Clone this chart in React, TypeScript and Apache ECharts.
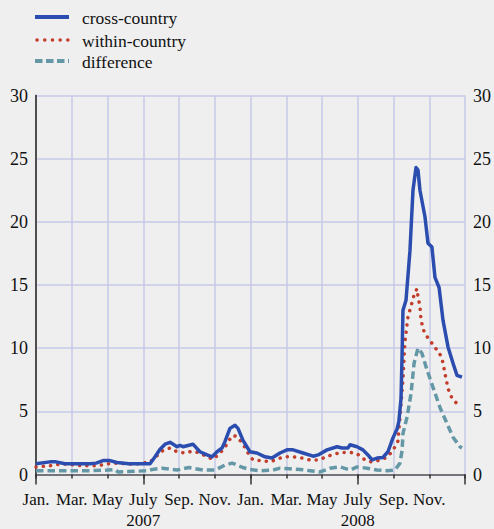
import React, { useEffect, useRef } from "react";
import * as echarts from "echarts";

const monthLabels = ["Jan.", "Mar.", "May", "July", "Sep.", "Nov."];
const yearLabels: Record<number, string> = { 6: "2007", 18: "2008" };
const seriesNames = ["cross-country", "within-country", "difference"];

// [months since Jan. 2007, value]
const crossCountry: [number, number][] = [
  [0, 0.85], [0.78, 1.0], [1.12, 1.0], [1.62, 0.85], [3.02, 0.85], [3.36, 0.9], [3.75, 1.1], [4.14, 1.1],
  [4.53, 0.95], [5.2, 0.85], [6.38, 0.85], [6.66, 1.4], [6.94, 2.0], [7.22, 2.4], [7.5, 2.55], [7.89, 2.2],
  [8.06, 2.3], [8.22, 2.2], [8.5, 2.3], [8.78, 2.4], [9.17, 1.8], [9.57, 1.55], [9.85, 1.4], [10.13, 1.8],
  [10.41, 2.1], [10.57, 2.6], [10.85, 3.65], [11.13, 3.9], [11.3, 3.65], [11.58, 2.7], [11.97, 1.8],
  [12.36, 1.7], [12.81, 1.4], [13.2, 1.3], [13.65, 1.7], [14.04, 1.95], [14.38, 1.95], [14.94, 1.7],
  [15.5, 1.45], [15.78, 1.55], [16.28, 1.95], [16.84, 2.2], [17.12, 2.1], [17.45, 2.1], [17.57, 2.35],
  [17.96, 2.2], [18.29, 1.95], [18.57, 1.55], [18.8, 1.15], [19.08, 1.3], [19.41, 1.35], [19.69, 1.8],
  [19.97, 2.9], [20.2, 3.6], [20.3, 4.2], [20.42, 6.0], [20.48, 9.5], [20.53, 13.0], [20.7, 13.8],
  [20.92, 17.7], [21.09, 22.5], [21.26, 24.3], [21.37, 24.1], [21.48, 22.5], [21.76, 20.4], [21.93, 18.3],
  [22.15, 18.0], [22.32, 15.6], [22.55, 14.8], [22.77, 12.2], [23.05, 10.1], [23.33, 8.8], [23.55, 7.85],
  [23.83, 7.7],
];

const withinCountry: [number, number][] = [
  [0, 0.6], [0.8, 0.7], [1.5, 0.85], [2.5, 0.7], [3.5, 0.7], [4.0, 0.85], [4.5, 0.9], [5.5, 0.8],
  [6.38, 1.0], [6.66, 1.35], [7.05, 1.85], [7.5, 2.1], [7.89, 1.8], [8.34, 1.7], [8.73, 1.85], [9.17, 1.7],
  [9.57, 1.4], [9.9, 1.2], [10.3, 1.7], [10.57, 2.15], [10.8, 2.7], [11.02, 3.1], [11.24, 3.0], [11.41, 2.7],
  [11.69, 2.15], [11.86, 1.7], [12.14, 1.15], [12.64, 1.1], [13.09, 1.0], [13.54, 1.25], [13.93, 1.4],
  [14.38, 1.4], [14.88, 1.3], [15.33, 1.15], [15.78, 1.15], [16.17, 1.35], [16.62, 1.6], [17.12, 1.75],
  [17.57, 1.75], [17.96, 1.65], [18.29, 1.25], [18.69, 1.0], [19.13, 1.1], [19.64, 1.35], [19.97, 1.9],
  [20.25, 2.65], [20.36, 4.5], [20.53, 7.5], [20.64, 10.5], [20.81, 12.5], [20.98, 13.3], [21.15, 14.2],
  [21.31, 14.7], [21.37, 14.1], [21.48, 13.3], [21.54, 12.2], [21.71, 11.3], [21.93, 10.8], [22.1, 10.5],
  [22.27, 10.1], [22.49, 9.8], [22.71, 9.2], [22.88, 8.0], [23.05, 6.8], [23.27, 6.05], [23.55, 5.6],
];

const difference: [number, number][] = [
  [0, 0.3], [1, 0.3], [2, 0.3], [3, 0.3], [4, 0.35], [4.4, 0.4], [4.6, 0.2], [5.5, 0.25], [6.2, 0.3],
  [6.5, 0.4], [7.05, 0.5], [7.89, 0.35], [8.56, 0.55], [9.34, 0.35], [10.02, 0.35], [10.57, 0.75],
  [10.97, 0.9], [11.24, 0.75], [11.58, 0.55], [11.97, 0.4], [12.53, 0.3], [13.26, 0.35], [13.65, 0.5],
  [14.21, 0.45], [14.77, 0.4], [15.33, 0.3], [15.89, 0.2], [16.45, 0.5], [17.01, 0.6], [17.57, 0.35],
  [17.96, 0.6], [18.52, 0.5], [19.08, 0.35], [19.64, 0.3], [20.08, 0.35], [20.36, 0.9], [20.48, 1.9],
  [20.53, 3.25], [20.76, 4.55], [20.98, 6.4], [21.15, 8.8], [21.37, 10.0], [21.59, 9.6], [21.87, 8.3],
  [22.21, 6.9], [22.6, 5.3], [22.99, 4.05], [23.33, 2.95], [23.72, 2.2], [23.83, 2.1],
];

const FONT = "Liberation Serif";
const BLUE = "#2b4db0";
const RED = "#c23d2b";
const TEAL = "#6598a6";
const GRID = "#c6cae9";

export default function App() {
  const ref = useRef<HTMLDivElement>(null);
  useEffect(() => {
    if (!ref.current) return;
    const chart = echarts.init(ref.current, undefined, { renderer: "svg" });
    const legendItems = [
      { name: seriesNames[0], color: BLUE, dash: null as number[] | null, y: 17 },
      { name: seriesNames[1], color: RED, dash: [0.1, 7.6], y: 40 },
      { name: seriesNames[2], color: TEAL, dash: [7.5, 3.5], y: 61 },
    ];
    const graphic: any[] = [];
    legendItems.forEach((it) => {
      const dotted = !!it.dash && it.dash[0] < 1;
      graphic.push({
        type: "line",
        shape: { x1: dotted ? 37 : 35, y1: it.y, x2: 69, y2: it.y },
        style: {
          stroke: it.color,
          lineWidth: dotted ? 3.5 : 4,
          lineDash: it.dash || undefined,
          lineCap: dotted ? "round" : "butt",
        },
      });
      graphic.push({
        type: "text",
        x: 82,
        y: it.y + 1,
        style: {
          text: it.name,
          fontFamily: FONT,
          fontSize: 17.5,
          fill: "#111",
          verticalAlign: "middle",
        },
      });
    });
    chart.setOption({
      animation: false,
      backgroundColor: "#efefef",
      grid: { left: 36, right: 29, top: 95.5, bottom: 54.5, containLabel: false },
      graphic,
      xAxis: [
        {
          type: "value",
          min: 0,
          max: 24,
          interval: 2,
          position: "bottom",
          axisLine: { show: true, onZero: false, lineStyle: { color: "#555", width: 1.5 } },
          axisTick: { show: true, length: 4, lineStyle: { color: "#333", width: 1.5 } },
          axisLabel: {
            fontFamily: FONT,
            fontSize: 17,
            color: "#111",
            margin: 16,
            formatter: (v: number) => (v >= 24 ? "" : monthLabels[Math.round(v / 2) % 6]),
          },
          splitLine: { show: true, lineStyle: { color: GRID, width: 1.5 } },
        },
        {
          type: "value",
          min: 0,
          max: 24,
          interval: 6,
          position: "bottom",
          axisLine: { show: false },
          axisTick: { show: true, length: 10, lineStyle: { color: "#333", width: 1.5 } },
          axisLabel: {
            fontFamily: FONT,
            fontSize: 17,
            color: "#111",
            margin: 37,
            formatter: (v: number) => yearLabels[Math.round(v)] || "",
          },
          splitLine: { show: false },
        },
      ],
      yAxis: [
        {
          type: "value",
          min: 0,
          max: 30,
          interval: 5,
          position: "left",
          axisLine: { show: true, lineStyle: { color: "#111", width: 1.5 } },
          axisTick: { show: false },
          axisLabel: { fontFamily: FONT, color: "#111", fontSize: 18, margin: 8 },
          splitLine: { show: true, lineStyle: { color: GRID, width: 1.5 } },
        },
        {
          type: "value",
          min: 0,
          max: 30,
          interval: 5,
          position: "right",
          axisLine: { show: true, lineStyle: { color: "#555", width: 1.5 } },
          axisTick: { show: false },
          axisLabel: { fontFamily: FONT, color: "#111", fontSize: 18, margin: 8 },
          splitLine: { show: false },
        },
      ],
      series: [
        {
          name: seriesNames[2],
          type: "line",
          data: difference,
          showSymbol: false,
          symbol: "none",
          lineStyle: { color: TEAL, width: 3.5, type: [7.5, 4], join: "round" },
          z: 2,
        },
        {
          name: seriesNames[1],
          type: "line",
          data: withinCountry,
          showSymbol: false,
          symbol: "none",
          lineStyle: { color: RED, width: 3.5, type: [0.1, 7.2], cap: "round", join: "round" },
          z: 3,
        },
        {
          name: seriesNames[0],
          type: "line",
          data: crossCountry,
          showSymbol: false,
          symbol: "none",
          lineStyle: { color: BLUE, width: 3.5, join: "round" },
          z: 4,
        },
      ],
    });
    return () => chart.dispose();
  }, []);
  return (
    <div
      ref={ref}
      style={{ position: "fixed", left: 0, top: 0, width: 494, height: 529, background: "#efefef" }}
    />
  );
}
